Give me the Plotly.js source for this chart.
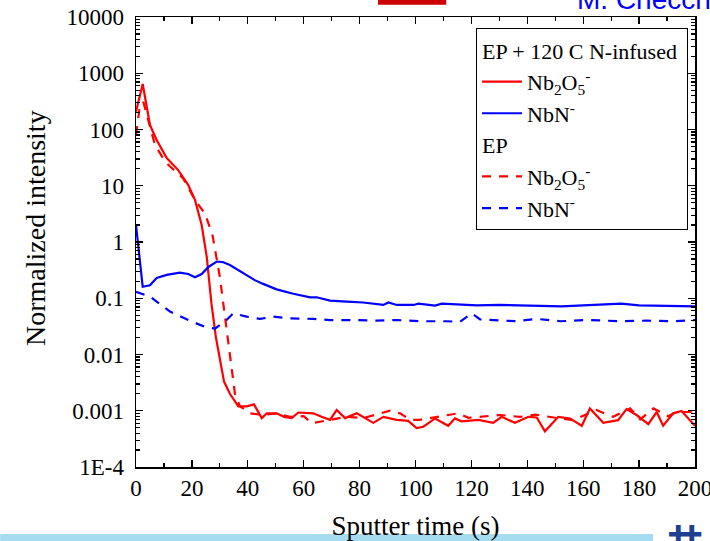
<!DOCTYPE html>
<html>
<head>
<meta charset="utf-8">
<script src="https://cdn.plot.ly/plotly-3.0.1.min.js"></script>
<style>html,body{margin:0;padding:0;background:#fff;}#chart{width:710px;height:541px;}</style>
</head>
<body>
<div id="chart"></div>
<script>
// N-infused Nb2O5- (solid red)
var xNbOInf = [0, 2.4, 5, 7.4, 11, 15.1, 18.7, 21.1, 23.5, 25.3, 27, 28.6, 31.5, 33.6, 36.6, 39.6, 42.2, 45, 46.8, 50.3, 53, 55.7, 58.1, 63.4, 66.4, 69.4, 71.8, 74.8, 79, 81.3, 84.9, 88.5, 93.3, 97.4, 100.4, 102.8, 107, 111.7, 114.1, 116.5, 122.5, 127.8, 130.8, 135.6, 140.4, 143.4, 146.3, 151.1, 155.3, 159.5, 162.4, 167.2, 172.5, 175.5, 179.1, 183.3, 186.3, 188.6, 192.2, 195.2, 200];
var yNbOInf = [207, 645, 120, 65, 31, 19, 10.3, 5.6, 2.0, 0.55, 0.08, 0.02, 0.0033, 0.002, 0.0012, 0.0012, 0.0013, 0.00074, 0.0009, 0.0009, 0.00078, 0.00074, 0.00093, 0.0009, 0.00078, 0.00069, 0.00103, 0.00074, 0.0009, 0.00078, 0.00061, 0.00078, 0.00069, 0.00066, 0.00049, 0.00052, 0.00073, 0.00054, 0.00073, 0.00065, 0.00069, 0.00061, 0.00078, 0.00061, 0.00078, 0.00076, 0.00043, 0.00078, 0.00073, 0.00054, 0.0011, 0.00061, 0.00068, 0.00107, 0.00084, 0.00058, 0.00095, 0.00054, 0.0009, 0.00099, 0.00054];
// N-infused NbN- (solid blue)
var xNbNInf = [0, 2.4, 5, 7.4, 11, 15.7, 18.7, 21.1, 23.5, 25.9, 28.9, 31, 33.6, 36.5, 39.6, 42.5, 45.5, 50.3, 56.3, 60, 62.3, 64.6, 69.4, 75.4, 81.3, 88.5, 90.3, 93.3, 99.3, 101.1, 107, 109.4, 116.5, 122, 130, 140, 152.3, 160, 173.7, 180, 192.8, 200];
var yNbNInf = [2.0, 0.16, 0.17, 0.23, 0.26, 0.285, 0.27, 0.236, 0.27, 0.36, 0.45, 0.44, 0.39, 0.32, 0.26, 0.21, 0.18, 0.144, 0.12, 0.11, 0.104, 0.104, 0.091, 0.087, 0.084, 0.076, 0.084, 0.076, 0.076, 0.08, 0.074, 0.08, 0.076, 0.075, 0.076, 0.075, 0.072, 0.075, 0.08, 0.075, 0.074, 0.072];
// EP Nb2O5- (dashed red)
var xNbOEP = [0, 1.2, 2.6, 5, 6.8, 10.4, 12.2, 16.9, 21.1, 24.7, 27.4, 30, 31.2, 33.6, 35.4, 37.2, 40.8, 45.5, 50.3, 55.1, 60, 62.9, 69.4, 75.4, 81.3, 87.3, 90.9, 94.5, 98, 101.6, 107.6, 115.3, 119, 123, 130.2, 137.4, 143, 150, 156.4, 164.7, 170.7, 176.8, 180.4, 185.1, 190.4, 193.4, 200];
var yNbOEP = [80, 224, 312, 112, 53, 27, 22, 13.5, 5.6, 3.2, 1.3, 0.24, 0.081, 0.0104, 0.002, 0.0012, 0.0009, 0.00084, 0.0009, 0.00078, 0.0008, 0.0006, 0.00068, 0.00078, 0.00074, 0.0009, 0.001, 0.0009, 0.00069, 0.00069, 0.00078, 0.0009, 0.00075, 0.00078, 0.00084, 0.00078, 0.00085, 0.00075, 0.00068, 0.00103, 0.00078, 0.0011, 0.0007, 0.0011, 0.0008, 0.00095, 0.00095];
// EP NbN- (dashed blue)
var xNbNEP = [0, 5, 12.2, 18.7, 25.3, 28.3, 32.4, 34.8, 39.6, 44.4, 49.1, 55, 63.4, 69.4, 77.8, 86.1, 93.3, 101.6, 111.1, 115.9, 120.1, 123.1, 136.2, 143.4, 151.8, 161.3, 174.4, 182.7, 192.3, 200];
var yNbNEP = [0.13, 0.107, 0.058, 0.041, 0.030, 0.029, 0.041, 0.054, 0.047, 0.043, 0.047, 0.044, 0.043, 0.041, 0.041, 0.040, 0.041, 0.039, 0.039, 0.038, 0.054, 0.042, 0.039, 0.043, 0.039, 0.041, 0.039, 0.040, 0.039, 0.041];

var yTickVals = [1e-4, 1e-3, 1e-2, 1e-1, 1, 10, 100, 1000, 10000];
var yTickText = ['1E-4', '0.001', '0.01', '0.1', '1', '10', '100', '1000', '10000'];
var xTickVals = [0, 20, 40, 60, 80, 100, 120, 140, 160, 180, 200];

var yMinor = [];
for (var d = -4; d < 4; d++) { for (var m = 2; m <= 9; m++) { yMinor.push(m * Math.pow(10, d)); } }

var serif = 'Liberation Serif, Times New Roman, serif';
var sub = 'Nb<sub>2</sub>O<sub>5</sub><sup>-</sup>';
var nbn = 'NbN<sup>-</sup>';
var legFont = {family: serif, size: 22, color: '#000'};

var traces = [
  {x: xNbOInf, y: yNbOInf, mode: 'lines', name: sub, legendgroup: 'inf',
   legendgrouptitle: {text: 'EP + 120 C N-infused', font: legFont},
   line: {color: '#ff0000', width: 2.2}},
  {x: xNbNInf, y: yNbNInf, mode: 'lines', name: nbn, legendgroup: 'inf',
   line: {color: '#0000ff', width: 2.2}},
  {x: xNbOEP, y: yNbOEP, mode: 'lines', name: sub, legendgroup: 'ep',
   legendgrouptitle: {text: 'EP', font: legFont},
   line: {color: '#ff0000', width: 2.2, dash: '9px,8px'}},
  {x: xNbNEP, y: yNbNEP, mode: 'lines', name: nbn, legendgroup: 'ep',
   line: {color: '#0000ff', width: 2.2, dash: '9px,8px'}}
];

var layout = {
  width: 710, height: 541,
  margin: {l: 136, r: 15, t: 17, b: 74},
  paper_bgcolor: '#fff', plot_bgcolor: '#fff',
  font: {family: serif, size: 22, color: '#000'},
  showlegend: true,
  legend: {
    x: 0.9875, xanchor: 'right', y: 0.975, yanchor: 'top',
    bordercolor: '#000', borderwidth: 1, bgcolor: '#fff',
    font: legFont, itemwidth: 40,
    traceorder: 'grouped', tracegroupgap: 0
  },
  xaxis: {
    range: [0, 200], tickmode: 'array', tickvals: xTickVals,
    ticks: 'inside', ticklen: 7, tickwidth: 1.2, tickcolor: '#000',
    minor: {dtick: 10, tick0: 0, ticks: 'inside', ticklen: 4, tickcolor: '#000', showgrid: false},
    showline: true, linecolor: '#000', linewidth: 1.5, mirror: 'allticks',
    showgrid: false, zeroline: false, ticklabeloverflow: 'allow',
    tickfont: {family: serif, size: 23, color: '#000'},
    title: {text: 'Sputter time (s)', font: {family: serif, size: 27, color: '#000'}, standoff: 17}
  },
  yaxis: {
    type: 'log', range: [-4, 4], tickmode: 'array', tickvals: yTickVals, ticktext: yTickText,
    ticks: 'inside', ticklen: 7, tickwidth: 1.2, tickcolor: '#000',
    minor: {tickmode: 'array', tickvals: yMinor, ticks: 'inside', ticklen: 4, tickcolor: '#000', showgrid: false},
    showline: true, linecolor: '#000', linewidth: 1.5, mirror: 'allticks',
    showgrid: false, zeroline: false, ticklabeloverflow: 'allow', ticklabelstandoff: 6,
    tickfont: {family: serif, size: 23, color: '#000'}
  },
  shapes: [
    {type: 'rect', xref: 'paper', yref: 'paper', x0: 0.433, x1: 0.555, y0: 1.027, y1: 1.05, fillcolor: '#cc0000', line: {width: 0}, layer: 'above'},
    {type: 'rect', xref: 'paper', yref: 'paper', x0: -0.243, x1: 0.925, y0: -0.17, y1: -0.149, fillcolor: '#a6dcef', line: {width: 0}, layer: 'above'}
  ],
  annotations: [
    {text: 'Normalized intensity', xref: 'paper', yref: 'paper', x: -0.18, y: 0.532, xanchor: 'center', yanchor: 'middle',
     textangle: -90, showarrow: false, font: {family: serif, size: 28, color: '#000'}},
    {text: 'M. Checchi', xref: 'paper', yref: 'paper', x: 0.785, y: 1.0378, xanchor: 'left', yanchor: 'middle',
     showarrow: false, font: {family: 'Liberation Sans, Arial, sans-serif', size: 28, color: '#0000ff'}},
    {text: '<b>共</b>', xref: 'paper', yref: 'paper', x: 0.944, y: -0.163, xanchor: 'left', yanchor: 'middle',
     showarrow: false, font: {family: 'Noto Sans CJK JP, sans-serif', size: 38, color: '#1f3f8f'}}
  ]
};

Plotly.newPlot('chart', traces, layout, {displayModeBar: false, staticPlot: true});
</script>
</body>
</html>
